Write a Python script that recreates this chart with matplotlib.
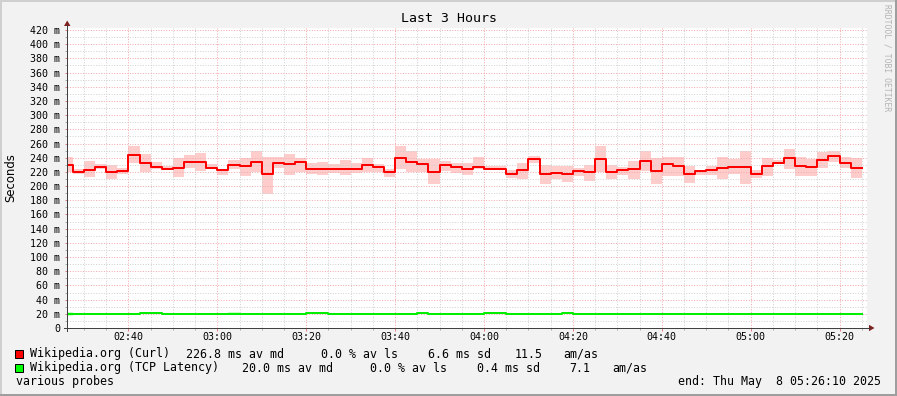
import matplotlib
matplotlib.use("Agg")
import matplotlib.pyplot as plt
import matplotlib.dates as mdates
from matplotlib.patches import Polygon, Rectangle
from matplotlib.lines import Line2D
from matplotlib.ticker import MultipleLocator, FuncFormatter
import pandas as pd

# ---------------- data (milliseconds) ----------------
title = "Last 3 Hours"
y_label = "Seconds"
watermark = "RRDTOOL / TOBI OETIKER"
window_start = "2025-05-08 02:26:10"
window_end = "2025-05-08 05:26:10"
first_step = "2025-05-08 02:27:30"
step_seconds = 150

curl_median = [229.7, 220.4, 222.7, 227.5, 220.4, 221.8, 244.4, 233.0, 227.5, 224.6,
               226.0, 234.5, 234.5, 226.0, 222.3, 230.3, 228.0, 234.0, 216.6, 233.0,
               230.8, 234.5, 224.6, 224.6, 224.6, 224.6, 224.6, 230.3, 226.5, 219.4,
               240.2, 234.5, 230.8, 220.4, 229.3, 226.5, 223.7, 226.5, 223.6, 223.6,
               217.5, 222.2, 237.7, 217.5, 218.2, 217.5, 220.8, 219.8, 237.7, 219.4,
               222.2, 223.6, 234.9, 220.8, 230.7, 227.9, 217.1, 220.8, 222.2, 225.0,
               226.4, 226.4, 216.6, 228.3, 232.6, 239.2, 227.9, 226.4, 236.3, 242.0,
               232.1, 225.0]
curl_low = [219.6, 217.0, 212.8, 223.7, 210.5, 217.0, 232.2, 220.0, 223.7, 222.7,
            212.8, 226.0, 221.3, 223.7, 216.0, 224.6, 214.0, 220.0, 188.3, 226.0,
            215.7, 220.0, 217.5, 215.0, 219.0, 215.0, 219.0, 220.4, 220.4, 212.8,
            223.7, 220.4, 220.4, 203.4, 221.3, 219.0, 215.0, 223.7, 222.7, 222.7,
            211.8, 210.0, 232.0, 202.5, 210.0, 206.0, 213.6, 207.6, 220.3, 210.0,
            216.0, 210.0, 221.4, 202.5, 213.6, 213.6, 205.0, 215.8, 215.8, 210.0,
            216.6, 203.4, 212.0, 214.8, 230.7, 224.0, 214.8, 214.8, 226.0, 233.8,
            226.0, 212.0]
curl_high = [241.4, 223.7, 235.0, 230.8, 230.3, 226.0, 256.7, 245.4, 234.0, 228.0,
             239.2, 243.5, 247.3, 230.8, 224.6, 236.4, 240.0, 249.0, 241.6, 241.0,
             244.8, 240.2, 233.0, 234.5, 230.8, 236.4, 233.0, 240.2, 230.8, 224.6,
             256.7, 249.6, 238.0, 238.0, 235.0, 232.0, 232.0, 241.6, 229.0, 229.0,
             222.7, 232.0, 242.4, 229.7, 228.3, 229.0, 226.0, 229.7, 256.5, 229.7,
             227.5, 235.6, 249.7, 239.3, 240.7, 240.7, 229.0, 222.9, 229.0, 240.7,
             238.3, 249.7, 222.9, 239.3, 237.0, 252.0, 240.7, 238.3, 248.7, 249.7,
             240.7, 239.3]

tcp_median = [20.0, 20.0, 20.0, 20.0, 20.0, 20.0, 20.0, 21.0, 21.0, 20.0,
              20.0, 20.0, 20.0, 20.0, 20.0, 20.0, 20.0, 20.0, 20.0, 20.0,
              20.0, 20.0, 21.0, 21.0, 20.0, 20.0, 20.0, 20.0, 20.0, 20.0,
              20.0, 20.0, 20.8, 20.0, 20.0, 20.0, 20.0, 20.0, 21.0, 21.0,
              20.0, 20.0, 20.0, 20.0, 20.0, 20.8, 20.0, 20.0, 20.0, 20.0,
              20.0, 20.0, 20.0, 20.0, 20.0, 20.0, 20.0, 20.0, 20.0, 20.0,
              20.0, 20.0, 20.0, 20.0, 20.0, 20.0, 20.0, 20.0, 20.0, 20.0,
              20.0, 20.0]
tcp_low = [17.0, 19.6, 19.6, 19.6, 19.6, 19.6, 19.6, 20.4, 20.4, 19.6,
           19.6, 19.6, 19.6, 19.6, 19.6, 19.6, 19.6, 19.6, 19.6, 19.6,
           19.6, 19.6, 20.4, 20.4, 19.6, 19.6, 19.6, 19.6, 19.6, 19.6,
           19.6, 19.6, 20.2, 19.6, 19.6, 19.6, 19.6, 19.6, 20.4, 20.4,
           19.6, 19.6, 19.6, 19.6, 19.6, 20.2, 19.6, 19.6, 19.6, 19.6,
           19.6, 19.6, 19.6, 19.6, 19.6, 19.6, 19.6, 19.6, 19.6, 19.6,
           19.6, 19.6, 19.6, 19.6, 19.6, 19.6, 19.6, 19.6, 19.6, 19.6,
           19.6, 19.6]
tcp_high = [23.0, 20.4, 20.4, 20.4, 20.4, 20.4, 20.4, 21.4, 21.4, 20.4,
            20.4, 20.4, 20.4, 20.4, 20.4, 22.5, 20.4, 20.4, 20.4, 20.4,
            20.4, 21.8, 21.4, 21.4, 20.4, 20.4, 20.4, 21.8, 20.4, 20.4,
            20.4, 21.5, 21.2, 20.4, 20.4, 20.4, 20.4, 20.4, 21.4, 21.4,
            20.4, 20.4, 20.4, 20.4, 20.4, 21.2, 20.4, 20.4, 20.4, 20.4,
            20.4, 20.4, 20.4, 20.4, 20.4, 20.4, 20.4, 20.4, 20.4, 20.4,
            20.4, 20.4, 20.4, 20.4, 20.4, 20.4, 20.4, 20.4, 20.4, 20.4,
            20.4, 20.4]

legend_names = ["Wikipedia.org (Curl)", "Wikipedia.org (TCP Latency)"]
legend_colors = ["#FF0000", "#00FF00"]
legend_median = ["226.8 ms av md", "20.0 ms av md"]
legend_loss = ["0.0 % av ls", "0.0 % av ls"]
legend_sd = ["6.6 ms sd", "0.4 ms sd"]
legend_amas = ["11.5", "7.1"]
footer_left = "various probes"
footer_right = "end: Thu May  8 05:26:10 2025"

# ---------------- figure ----------------
W, H = 897, 396
MONO = "DejaVu Sans Mono"
fig = plt.figure(figsize=(W / 100, H / 100), dpi=100, facecolor="#F2F2F2")


def fx(px):
    return px / W


def fy(py):
    return 1 - py / H


PX = 0.72  # one pixel in points

ax = fig.add_axes([fx(67), fy(328), 800 / W, 300 / H])
ax.set_facecolor("white")

t0 = pd.Timestamp(window_start)
t1 = pd.Timestamp(window_end)
edges = [t0] + list(pd.date_range(first_step, periods=len(curl_median), freq=f"{step_seconds}s"))
xe = mdates.date2num([e.to_pydatetime() for e in edges])


def ext(v):
    return list(v) + [v[-1]]


ax.fill_between(xe, ext(curl_low), ext(curl_high), step="post", color="#FFCCCC", lw=0, zorder=1)
ax.fill_between(xe, ext(tcp_low), ext(tcp_high), step="post", color="#C8FFC8", lw=0, zorder=1)
ax.step(xe, ext(curl_median), where="post", color="#FF0000", lw=2 * PX, zorder=3)
ax.step(xe, ext(tcp_median), where="post", color="#00EE00", lw=2 * PX, zorder=3)

ax.set_xlim(mdates.date2num(t0.to_pydatetime()), mdates.date2num(t1.to_pydatetime()))
ax.set_ylim(0, 422.8)

ax.xaxis.set_major_locator(mdates.MinuteLocator(byminute=[0, 20, 40]))
ax.xaxis.set_minor_locator(mdates.MinuteLocator(byminute=range(0, 60, 5)))
ax.xaxis.set_major_formatter(mdates.DateFormatter("%H:%M"))
ax.yaxis.set_major_locator(MultipleLocator(20))
ax.yaxis.set_minor_locator(MultipleLocator(10))
ax.yaxis.set_major_formatter(FuncFormatter(lambda v, p: "0" if v == 0 else f"{v:.0f} m"))

ax.set_axisbelow(False)
ax.grid(which="major", color="#F2AAAA", lw=PX, linestyle=(0, (1, 1.6)), zorder=2)
ax.grid(which="minor", color="#D2D2D2", lw=PX, linestyle=(0, (1, 1.6)), zorder=2)

for s in ax.spines.values():
    s.set_visible(False)

ax.tick_params(axis="x", which="major", length=3 * PX, width=PX, color="#E08080",
               pad=1.5 * PX, labelsize=7.2)
ax.tick_params(axis="x", which="minor", length=2 * PX, width=PX, color="#B0B0B0")
ax.tick_params(axis="y", which="major", length=2 * PX, width=PX, color="#E08080",
               pad=5 * PX, labelsize=7.2)
ax.tick_params(axis="y", which="minor", length=2 * PX, width=PX, color="#B0B0B0")
for lab in ax.get_xticklabels() + ax.get_yticklabels():
    lab.set_family(MONO)

# axes lines and arrows
fig.add_artist(Line2D([fx(67), fx(67)], [fy(331), fy(25)], transform=fig.transFigure,
                      color="#404040", lw=PX))
fig.add_artist(Line2D([fx(64), fx(870)], [fy(328), fy(328)], transform=fig.transFigure,
                      color="#404040", lw=PX))
fig.add_artist(Polygon([[fx(64), fy(26)], [fx(70.5), fy(26)], [fx(67.2), fy(20.5)]],
                       closed=True, transform=fig.transFigure, color="#7F1F1F", lw=0))
fig.add_artist(Polygon([[fx(869), fy(324.8)], [fx(869), fy(331.2)], [fx(874.5), fy(328)]],
                       closed=True, transform=fig.transFigure, color="#7F1F1F", lw=0))

# frame shading
fig.add_artist(Rectangle((0, fy(2)), 1, 2 / H, transform=fig.transFigure, color="#CFCFCF", lw=0))
fig.add_artist(Rectangle((0, 0), 2 / W, 1, transform=fig.transFigure, color="#CFCFCF", lw=0))
fig.add_artist(Rectangle((0, 0), 1, 2 / H, transform=fig.transFigure, color="#9E9E9E", lw=0))
fig.add_artist(Rectangle((fx(895), 0), 2 / W, 1, transform=fig.transFigure, color="#9E9E9E", lw=0))

# texts
fig.text(fx(448.5), fy(19), title, ha="center", va="center", fontsize=9.5, family=MONO)
fig.text(fx(10.5), fy(177.5), y_label, rotation=90, ha="center", va="center",
         fontsize=8.4, family="DejaVu Sans")
fig.text(fx(887), fy(58), watermark, rotation=270, ha="center", va="center",
         fontsize=5.8, family=MONO, color="#B4B4B4")

rows_y = [354, 368]
col_x = [[30, 186, 321, 427.7, 514.3, 563.3], [30, 241.7, 370, 477.3, 569.3, 612.3]]
for i in range(2):
    y = rows_y[i]
    fig.add_artist(Rectangle((fx(15), fy(y + 4)), 8 / W, 8 / H, transform=fig.transFigure,
                             facecolor=legend_colors[i], edgecolor="black", lw=PX))
    pieces = [legend_names[i], legend_median[i], legend_loss[i], legend_sd[i],
              legend_amas[i], "am/as"]
    for xp, txt in zip(col_x[i], pieces):
        fig.text(fx(xp), fy(y), txt, ha="left", va="center", fontsize=8.35, family=MONO)

fig.text(fx(16), fy(382), footer_left, ha="left", va="center", fontsize=8.35, family=MONO)
fig.text(fx(880.5), fy(382), footer_right, ha="right", va="center", fontsize=8.35, family=MONO)

fig.savefig("out.png", dpi=100, facecolor=fig.get_facecolor())
